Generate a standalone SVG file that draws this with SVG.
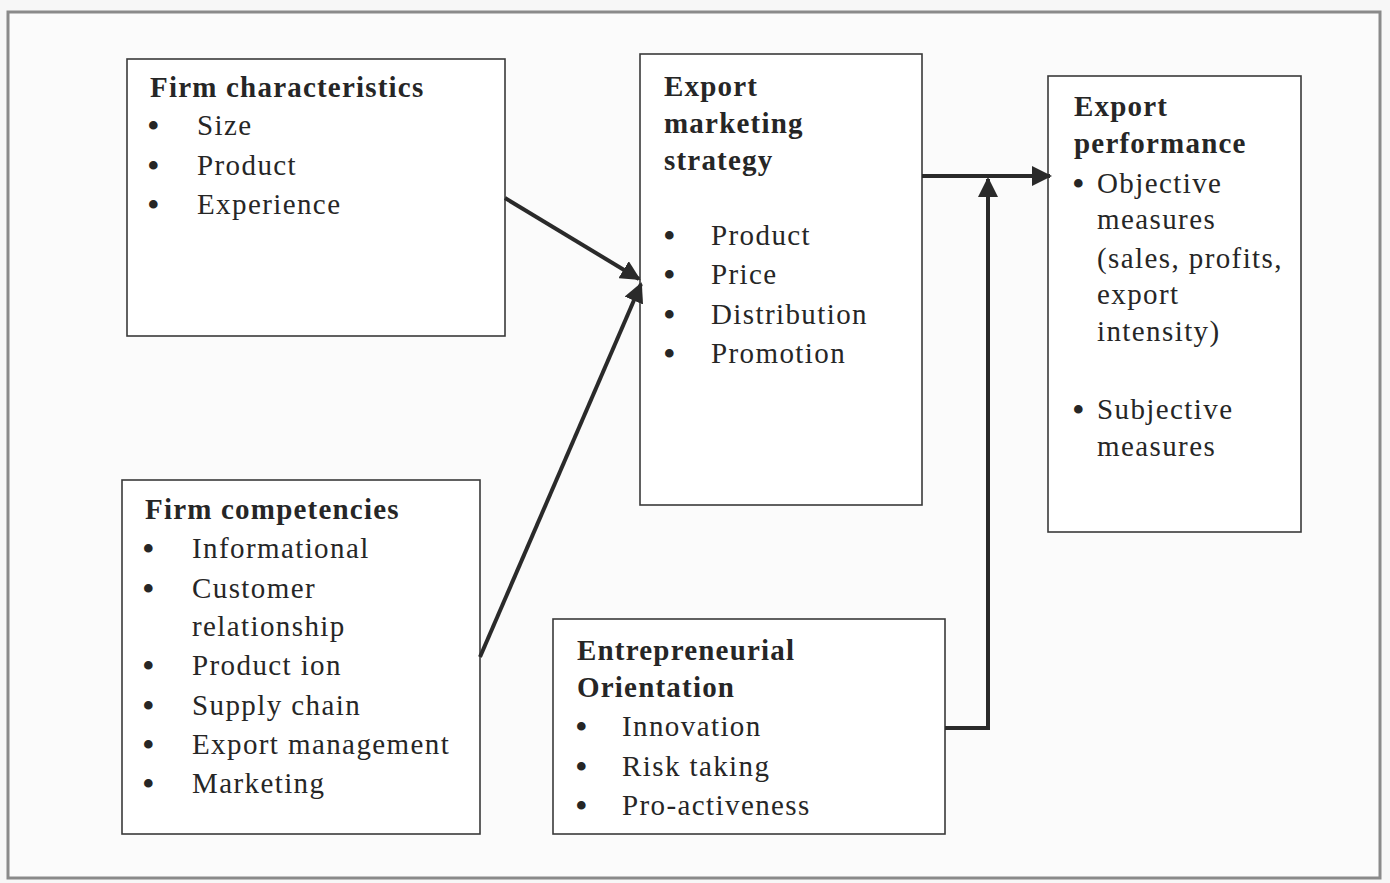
<svg xmlns="http://www.w3.org/2000/svg" width="1390" height="883" viewBox="0 0 1390 883">
<defs>
<marker id="ah" viewBox="0 0 10 10" refX="9" refY="5" markerWidth="5" markerHeight="5" markerUnits="strokeWidth" orient="auto">
<path d="M0,0 L10,5 L0,10 z" fill="#2a2a2a"/>
</marker>
<style>
.box{fill:#fff;stroke:#3a3a3a;stroke-width:1.6}
.t{font-family:"Liberation Serif","Times New Roman",serif;font-size:29px;letter-spacing:1.4px;fill:#262626}
.b{font-weight:bold;letter-spacing:1.2px}
.d{font-family:"Liberation Serif","Times New Roman",serif;font-size:36px;fill:#262626}
.c{stroke:#2a2a2a;stroke-width:4;fill:none}
</style>
</defs>
<rect x="0" y="0" width="1390" height="883" fill="#f7f7f7"/>
<rect x="8" y="12" width="1372" height="866" fill="#fbfbfb" stroke="#8a8a8a" stroke-width="3"/>
<g id="firm-characteristics">
<rect class="box" x="127" y="59" width="378" height="277"/>
<text class="t b" x="150" y="97">Firm characteristics</text>
<text class="d" x="147" y="138">•</text><text class="t" x="197" y="135">Size</text>
<text class="d" x="147" y="178">•</text><text class="t" x="197" y="175">Product</text>
<text class="d" x="147" y="217">•</text><text class="t" x="197" y="214">Experience</text>
</g>
<g id="firm-competencies">
<rect class="box" x="122" y="480" width="358" height="354"/>
<text class="t b" x="145" y="519">Firm competencies</text>
<text class="d" x="142" y="561">•</text><text class="t" x="192" y="558">Informational</text>
<text class="d" x="142" y="601">•</text><text class="t" x="192" y="598">Customer</text>
<text class="t" x="192" y="636">relationship</text>
<text class="d" x="142" y="678">•</text><text class="t" x="192" y="675">Product ion</text>
<text class="d" x="142" y="718">•</text><text class="t" x="192" y="715">Supply chain</text>
<text class="d" x="142" y="757">•</text><text class="t" x="192" y="754">Export management</text>
<text class="d" x="142" y="796">•</text><text class="t" x="192" y="793">Marketing</text>
</g>
<g id="export-marketing-strategy">
<rect class="box" x="640" y="54" width="282" height="451"/>
<text class="t b" x="664" y="96">Export</text>
<text class="t b" x="664" y="133">marketing</text>
<text class="t b" x="664" y="170">strategy</text>
<text class="d" x="663" y="248">•</text><text class="t" x="711" y="245">Product</text>
<text class="d" x="663" y="287">•</text><text class="t" x="711" y="284">Price</text>
<text class="d" x="663" y="327">•</text><text class="t" x="711" y="324">Distribution</text>
<text class="d" x="663" y="366">•</text><text class="t" x="711" y="363">Promotion</text>
</g>
<g id="export-performance">
<rect class="box" x="1048" y="76" width="253" height="456"/>
<text class="t b" x="1074" y="116">Export</text>
<text class="t b" x="1074" y="153">performance</text>
<text class="d" x="1072" y="196">•</text><text class="t" x="1097" y="193">Objective</text>
<text class="t" x="1097" y="229">measures</text>
<text class="t" x="1097" y="268">(sales, profits,</text>
<text class="t" x="1097" y="304">export</text>
<text class="t" x="1097" y="341">intensity)</text>
<text class="d" x="1072" y="422">•</text><text class="t" x="1097" y="419">Subjective</text>
<text class="t" x="1097" y="456">measures</text>
</g>
<g id="entrepreneurial-orientation">
<rect class="box" x="553" y="619" width="392" height="215"/>
<text class="t b" x="577" y="660">Entrepreneurial</text>
<text class="t b" x="577" y="697">Orientation</text>
<text class="d" x="575" y="739">•</text><text class="t" x="622" y="736">Innovation</text>
<text class="d" x="575" y="779">•</text><text class="t" x="622" y="776">Risk taking</text>
<text class="d" x="575" y="818">•</text><text class="t" x="622" y="815">Pro-activeness</text>
</g>
<g id="connectors">
<line class="c" x1="505" y1="198" x2="639" y2="279" marker-end="url(#ah)"/>
<line class="c" x1="480" y1="657" x2="641" y2="284" marker-end="url(#ah)"/>
<line class="c" x1="922" y1="176" x2="1050" y2="176" marker-end="url(#ah)"/>
<polyline class="c" points="945,728 988,728 988,179" marker-end="url(#ah)"/>
</g>
</svg>
